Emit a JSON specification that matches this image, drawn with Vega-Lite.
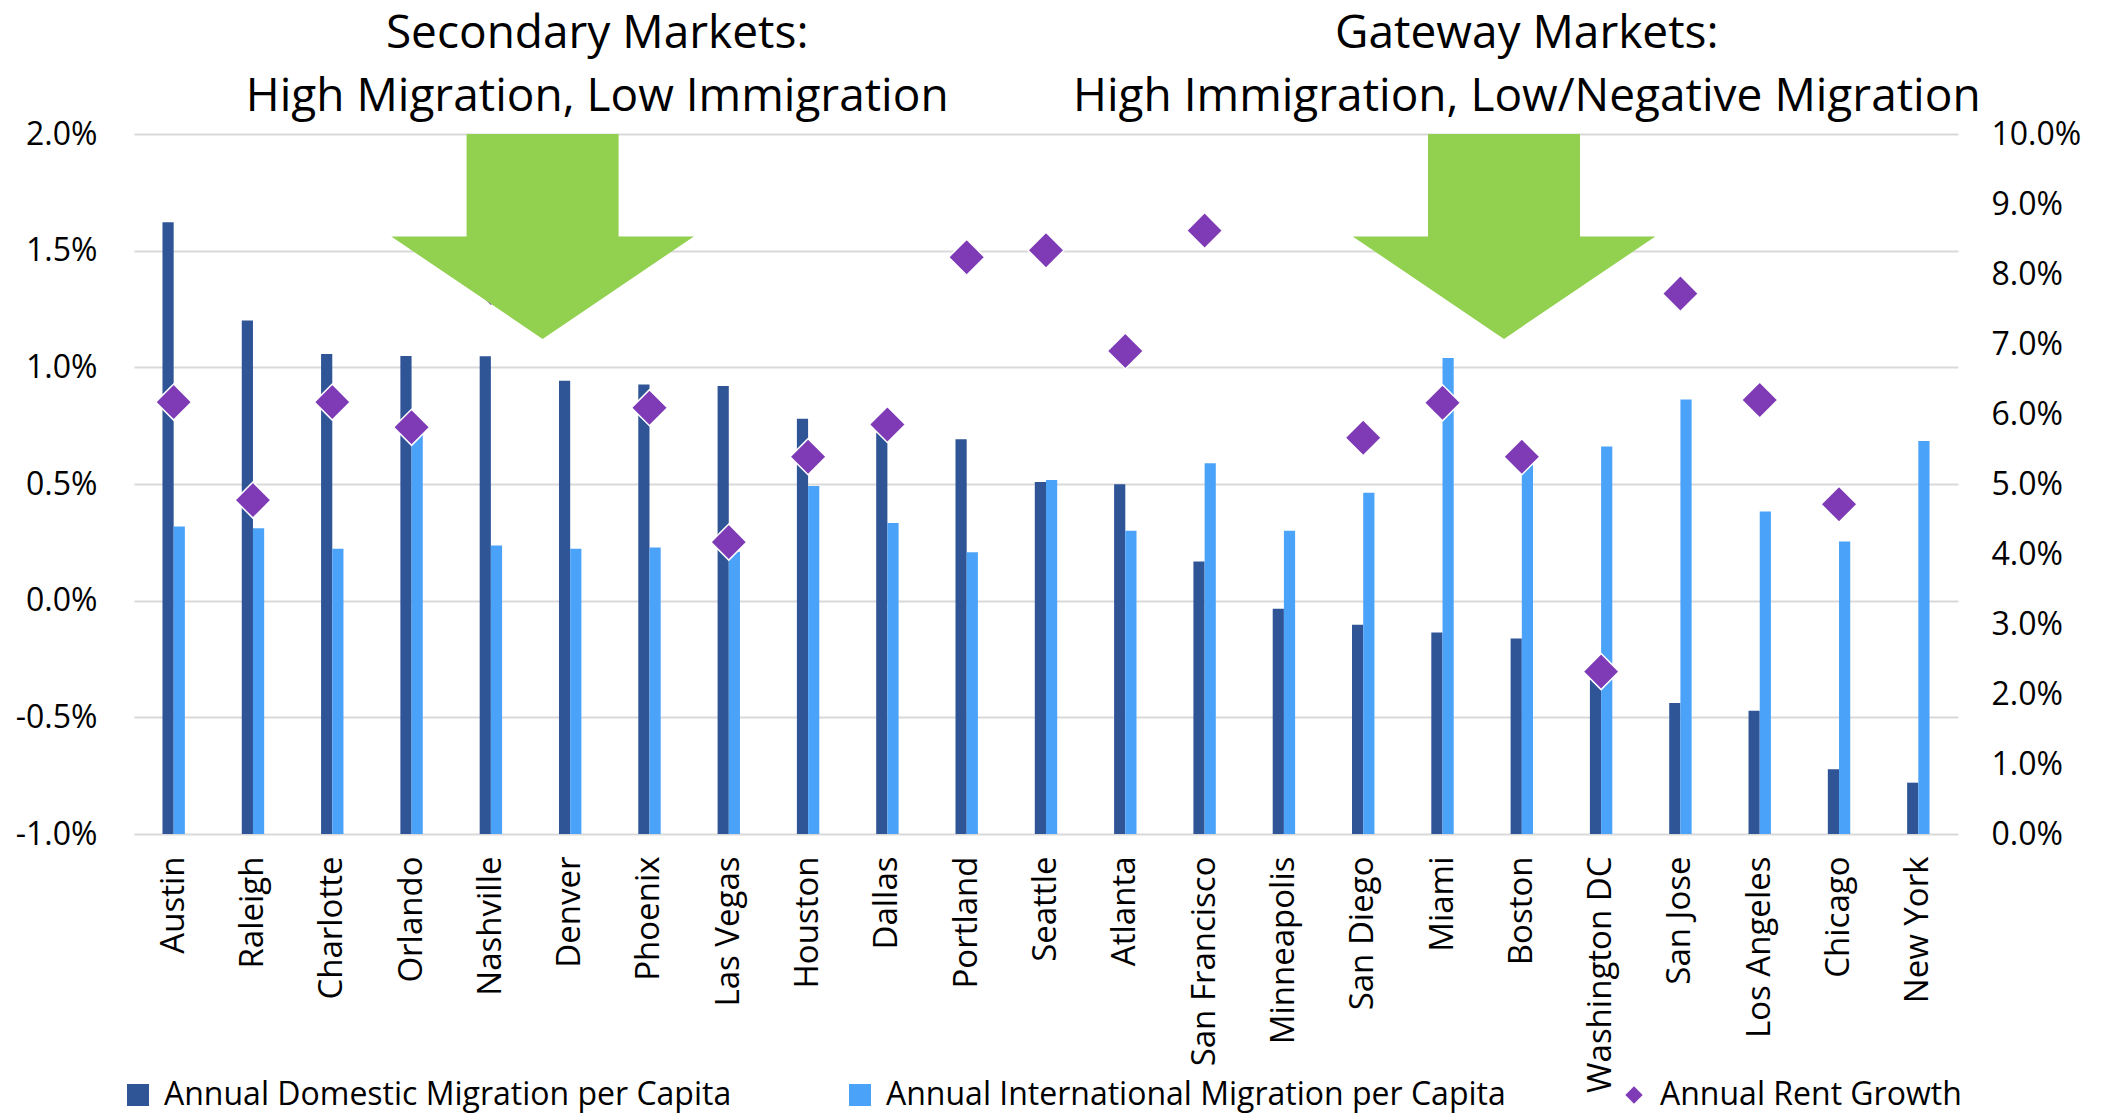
{
  "$schema": "https://vega.github.io/schema/vega-lite/v6.json",
  "width": 1824,
  "height": 700,
  "autosize": {"type": "none"},
  "padding": {"left": 134, "top": 134, "right": 148, "bottom": 281},
  "background": "white",
  "config": {"view": {"stroke": null}, "font": "Open Sans"},
  "data": {
    "values": [
      {"city": "Austin", "dom": 0.01622, "intl": 0.00318, "rent": 0.0617},
      {"city": "Raleigh", "dom": 0.01201, "intl": 0.0031, "rent": 0.0477},
      {"city": "Charlotte", "dom": 0.01057, "intl": 0.00222, "rent": 0.0617},
      {"city": "Orlando", "dom": 0.01049, "intl": 0.0071, "rent": 0.0581},
      {"city": "Nashville", "dom": 0.01047, "intl": 0.00236, "rent": 0.078},
      {"city": "Denver", "dom": 0.00943, "intl": 0.00222, "rent": 0.08},
      {"city": "Phoenix", "dom": 0.00926, "intl": 0.00228, "rent": 0.0609},
      {"city": "Las Vegas", "dom": 0.0092, "intl": 0.0021, "rent": 0.0417},
      {"city": "Houston", "dom": 0.0078, "intl": 0.00491, "rent": 0.0539},
      {"city": "Dallas", "dom": 0.0072, "intl": 0.00333, "rent": 0.0585},
      {"city": "Portland", "dom": 0.00692, "intl": 0.00207, "rent": 0.0824},
      {"city": "Seattle", "dom": 0.00509, "intl": 0.00517, "rent": 0.0834},
      {"city": "Atlanta", "dom": 0.00499, "intl": 0.003, "rent": 0.069},
      {"city": "San Francisco", "dom": 0.00168, "intl": 0.00589, "rent": 0.0862},
      {"city": "Minneapolis", "dom": -0.00035, "intl": 0.003, "rent": null},
      {"city": "San Diego", "dom": -0.00103, "intl": 0.00462, "rent": 0.0566},
      {"city": "Miami", "dom": -0.00136, "intl": 0.0104, "rent": 0.0616},
      {"city": "Boston", "dom": -0.00162, "intl": 0.0059, "rent": 0.0539},
      {"city": "Washington DC", "dom": -0.0034, "intl": 0.00661, "rent": 0.0232},
      {"city": "San Jose", "dom": -0.00439, "intl": 0.00862, "rent": 0.0772},
      {"city": "Los Angeles", "dom": -0.00472, "intl": 0.00382, "rent": 0.062},
      {"city": "Chicago", "dom": -0.00722, "intl": 0.00254, "rent": 0.0471},
      {"city": "New York", "dom": -0.0078, "intl": 0.00684, "rent": null}
    ]
  },
  "encoding": {
    "x": {
      "field": "city",
      "type": "nominal",
      "scale": {
        "domain": ["Austin", "Raleigh", "Charlotte", "Orlando", "Nashville", "Denver", "Phoenix", "Las Vegas", "Houston", "Dallas", "Portland", "Seattle", "Atlanta", "San Francisco", "Minneapolis", "San Diego", "Miami", "Boston", "Washington DC", "San Jose", "Los Angeles", "Chicago", "New York"],
        "paddingInner": 0.7175,
        "paddingOuter": 0.359
      },
      "axis": {
        "title": null,
        "labelAngle": -90,
        "labelFont": "Open Sans",
        "labelFontSize": 33,
        "labelColor": "black",
        "labelPadding": 22,
        "labelLimit": 0,
        "ticks": false,
        "domain": false,
        "grid": false
      }
    }
  },
  "layer": [
    {
      "transform": [{"fold": ["dom", "intl"], "as": ["series", "value"]}],
      "mark": {"type": "bar"},
      "encoding": {
        "y": {
          "field": "value",
          "type": "quantitative",
          "scale": {"domain": [-0.01, 0.02], "nice": false},
          "axis": {
            "title": null,
            "values": [-0.01, -0.005, 0, 0.005, 0.01, 0.015, 0.02],
            "format": ".1%",
            "labelExpr": "replace(datum.label, '\u2212', '-')",
            "grid": true,
            "gridColor": "#D9D9D9",
            "gridWidth": 2,
            "domain": false,
            "ticks": false,
            "labelFont": "Open Sans",
            "labelFontSize": 32,
            "labelColor": "black",
            "labelPadding": 37
          }
        },
        "y2": {"datum": -0.01},
        "xOffset": {"field": "series", "type": "nominal", "scale": {"domain": ["dom", "intl"], "paddingInner": 0, "paddingOuter": 0}},
        "color": {
          "field": "series",
          "type": "nominal",
          "scale": {"domain": ["dom", "intl", "rent"], "range": ["#2F5597", "#4BA3F9", "#7F3BB6"]},
          "legend": {
            "title": null,
            "orient": "none",
            "legendX": -12,
            "legendY": 945,
            "direction": "horizontal",
            "columns": 3,
            "columnPadding": 112,
            "labelFont": "Open Sans",
            "labelFontSize": 32,
            "labelColor": "black",
            "labelLimit": 0,
            "labelOffset": 10,
            "symbolSize": 484,
            "symbolStrokeWidth": 0,
            "labelExpr": "datum.value === 'dom' ? 'Annual Domestic Migration per Capita' : datum.value === 'intl' ? 'Annual International Migration per Capita' : 'Annual Rent Growth'",
            "encode": {
              "symbols": {
                "update": {
                  "shape": {"signal": "datum.value === 'rent' ? 'diamond' : 'square'"},
                  "size": {"signal": "datum.value === 'rent' ? 300 : 484"},
                  "fill": {"signal": "scale('color', datum.value)"},
                  "stroke": {"value": "transparent"},
                  "opacity": {"value": 1}
                }
              }
            }
          }
        }
      }
    },
    {
      "mark": {"type": "point", "shape": "diamond", "filled": true, "size": 1300, "stroke": "white", "strokeWidth": 1.5, "opacity": 1},
      "encoding": {
        "y": {
          "field": "rent",
          "type": "quantitative",
          "scale": {"domain": [0, 0.1], "nice": false},
          "axis": {
            "orient": "right",
            "title": null,
            "values": [0, 0.01, 0.02, 0.03, 0.04, 0.05, 0.06, 0.07, 0.08, 0.09, 0.1],
            "format": ".1%",
            "grid": false,
            "domain": false,
            "ticks": false,
            "labelFont": "Open Sans",
            "labelFontSize": 32,
            "labelColor": "black",
            "labelPadding": 33
          }
        },
        "color": {"datum": "rent", "type": "nominal"}
      }
    },
    {
      "transform": [{"filter": "datum.city === 'Denver'"}],
      "mark": {"type": "point", "shape": "M -1.036 0 L 0.484 0 L 0.484 1.025 L 1.237 1.025 L -0.276 2.049 L -1.789 1.025 L -1.036 1.025 Z", "size": 40000, "filled": true, "color": "#92D050", "opacity": 1, "strokeWidth": 0},
      "encoding": {
        "y": {"datum": 0.02, "type": "quantitative", "scale": {"domain": [-0.01, 0.02], "nice": false}, "axis": null}
      }
    },
    {
      "transform": [{"filter": "datum.city === 'Boston'"}],
      "mark": {"type": "point", "shape": "M -0.938 0 L 0.582 0 L 0.582 1.025 L 1.335 1.025 L -0.178 2.049 L -1.691 1.025 L -0.938 1.025 Z", "size": 40000, "filled": true, "color": "#92D050", "opacity": 1, "strokeWidth": 0},
      "encoding": {
        "y": {"datum": 0.02, "type": "quantitative", "scale": {"domain": [-0.01, 0.02], "nice": false}, "axis": null}
      }
    },
    {
      "transform": [{"filter": "datum.city === 'Denver'"}],
      "mark": {"type": "text", "text": "Secondary Markets:\nHigh Migration, Low Immigration", "lineBreak": "\n", "lineHeight": 63, "font": "Open Sans", "fontSize": 46, "color": "black", "align": "center", "baseline": "alphabetic", "dx": 27},
      "encoding": {
        "y": {"datum": 0.0237, "type": "quantitative", "scale": {"domain": [-0.01, 0.02], "nice": false}, "axis": null}
      }
    },
    {
      "transform": [{"filter": "datum.city === 'Boston'"}],
      "mark": {"type": "text", "text": "Gateway Markets:\nHigh Immigration, Low/Negative Migration", "lineBreak": "\n", "lineHeight": 63, "font": "Open Sans", "fontSize": 46, "color": "black", "align": "center", "baseline": "alphabetic", "dx": 5},
      "encoding": {
        "y": {"datum": 0.0237, "type": "quantitative", "scale": {"domain": [-0.01, 0.02], "nice": false}, "axis": null}
      }
    }
  ],
  "resolve": {"scale": {"y": "independent"}}
}
